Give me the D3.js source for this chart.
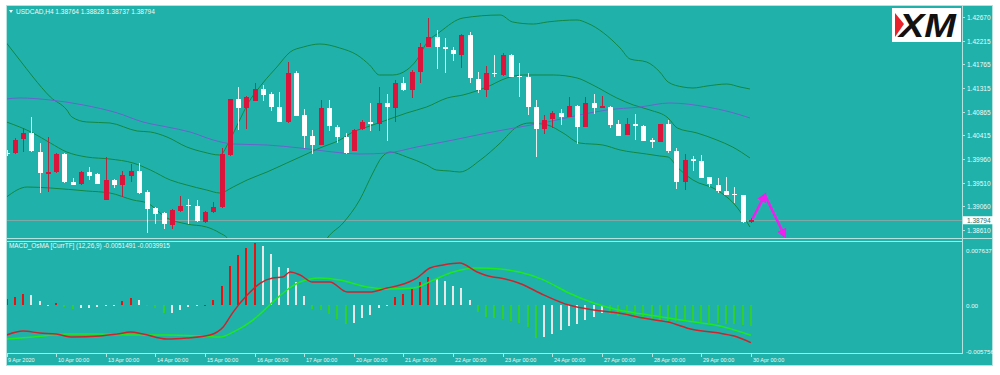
<!DOCTYPE html>
<html><head><meta charset="utf-8">
<script src="https://cdn.jsdelivr.net/npm/d3@7"></script>
<style>
html,body{margin:0;padding:0;background:#fff;}
svg{display:block;}
text{font-family:"Liberation Sans",Arial,sans-serif;}
</style></head><body>
<svg id="c" width="1000" height="375"></svg>
<script>
// ---------------- DATA ----------------
const symbolTitle = "USDCAD,H4  1.38764 1.38828 1.38737 1.38794";
const macdTitle = "MACD_OsMA [CurrTF] (12,26,9) -0.0051491 -0.0039915";
const lastPrice = 1.38794;

const openP  = [1.4008,1.4008,1.4034,1.4046,1.4010,1.3968,1.3971,1.4006,1.3952,1.3949,1.3971,1.3968,1.3918,1.3956,1.3947,1.3964,1.3973,1.3933,1.3903,1.3893,1.3870,1.3897,1.3908,1.3907,1.3876,1.3895,1.3905,1.4004,1.4111,1.4094,1.4107,1.4130,1.4120,1.4095,1.4067,1.4160,1.4080,1.4040,1.4023,1.4094,1.4057,1.4038,1.4012,1.4053,1.4067,1.4063,1.4103,1.4094,1.4141,1.4128,1.4162,1.4210,1.4229,1.4209,1.4204,1.4195,1.4233,1.4149,1.4128,1.4160,1.4156,1.4195,1.4154,1.4153,1.4095,1.4053,1.4073,1.4084,1.4076,1.4097,1.4057,1.4103,1.4094,1.4095,1.4063,1.4042,1.4063,1.4059,1.4032,1.4029,1.4063,1.4012,1.3952,1.3996,1.3992,1.3962,1.3947,1.3935,1.3930,1.3928,1.38764];
const highP  = [1.4013,1.4036,1.4055,1.4076,1.4027,1.4038,1.4008,1.4008,1.3960,1.3973,1.3981,1.3970,1.4000,1.3958,1.3973,1.3987,1.3989,1.3937,1.3905,1.3895,1.3901,1.3926,1.3920,1.3918,1.3897,1.3914,1.4017,1.4111,1.4134,1.4116,1.4141,1.4137,1.4124,1.4124,1.4181,1.4164,1.4092,1.4052,1.4109,1.4109,1.4061,1.4046,1.4053,1.4071,1.4103,1.4134,1.4120,1.4147,1.4153,1.4166,1.4217,1.4265,1.4242,1.4227,1.4210,1.4235,1.4238,1.4162,1.4174,1.4195,1.4198,1.4196,1.4179,1.4160,1.4109,1.4080,1.4088,1.4092,1.4114,1.4099,1.4114,1.4120,1.4116,1.4097,1.4071,1.4074,1.4082,1.4061,1.4036,1.4063,1.4071,1.4017,1.4006,1.4002,1.4004,1.3962,1.3960,1.3962,1.3943,1.3928,1.38828];
const lowP   = [1.4002,1.4006,1.4010,1.4010,1.3931,1.3933,1.3970,1.3950,1.3947,1.3947,1.3956,1.3949,1.3918,1.3941,1.3924,1.3952,1.3930,1.3855,1.3872,1.3863,1.3863,1.3895,1.3872,1.3876,1.3874,1.3893,1.3903,1.4002,1.4052,1.4053,1.4107,1.4107,1.4088,1.4067,1.4065,1.4078,1.4017,1.4006,1.4023,1.4050,1.4027,1.4006,1.4012,1.4052,1.4050,1.4050,1.4031,1.4067,1.4126,1.4113,1.4141,1.4210,1.4168,1.4160,1.4183,1.4170,1.4141,1.4122,1.4114,1.4153,1.4154,1.4153,1.4114,1.4080,1.4000,1.4044,1.4055,1.4061,1.4076,1.4025,1.4057,1.4082,1.4094,1.4055,1.4040,1.4042,1.4032,1.4031,1.4017,1.4029,1.4008,1.3939,1.3937,1.3973,1.3960,1.3943,1.3931,1.3928,1.3912,1.3875,1.38737];
const closeP = [1.4006,1.4032,1.4046,1.4012,1.3970,1.3971,1.4006,1.3952,1.3947,1.3971,1.3964,1.3949,1.3956,1.3947,1.3966,1.3973,1.3931,1.3901,1.3891,1.3872,1.3899,1.3907,1.3906,1.3878,1.3895,1.3905,1.4006,1.4111,1.4094,1.4115,1.4130,1.4118,1.4095,1.4067,1.4160,1.4078,1.4040,1.4023,1.4094,1.4059,1.4038,1.4008,1.4052,1.4067,1.4063,1.4103,1.4095,1.4141,1.4128,1.4162,1.4210,1.4229,1.4210,1.4207,1.4196,1.4233,1.4151,1.4128,1.4160,1.4158,1.4195,1.4153,1.4152,1.4095,1.4053,1.4071,1.4084,1.4076,1.4097,1.4057,1.4103,1.4094,1.4097,1.4061,1.4040,1.4063,1.4059,1.4031,1.4029,1.4063,1.4012,1.3952,1.3994,1.3992,1.3960,1.3949,1.3935,1.3928,1.3928,1.3876,1.38794];

// Bollinger bands & moving average: [barIndex, price]
const bbUpper = [[0,1.42174],[1.6,1.41850],[3.2,1.41526],[5.3,1.41145],[7.3,1.40896],[7.9,1.40764],[9.7,1.40668],[12.5,1.40649],[15.8,1.40496],[17.4,1.40477],[19.4,1.40382],[21.8,1.40191],[23.8,1.40095],[25.8,1.40038],[27,1.40324],[28.2,1.40706],[29.1,1.40992],[31,1.41411],[32.7,1.41717],[34.3,1.42002],[35.9,1.42098],[37.9,1.42155],[40.3,1.42079],[42.4,1.41945],[43.9,1.41755],[45.1,1.41564],[46.7,1.41564],[48.4,1.41659],[49.6,1.41850],[50.8,1.42174],[52.4,1.42384],[55.2,1.42651],[59.7,1.42708],[61.2,1.42575],[63.7,1.42536],[65.4,1.42575],[69,1.42613],[70.2,1.42555],[74.2,1.42079],[75.4,1.41869],[77.4,1.41812],[79,1.41621],[80,1.41430],[81.8,1.41335],[83,1.41316],[84.7,1.41354],[87.1,1.41392],[88.7,1.41335],[89.9,1.41297]];
const bbMiddle = [[0,1.40668],[3.2,1.40458],[5.3,1.40267],[7.3,1.40095],[9.7,1.40000],[12.5,1.39962],[15.3,1.39886],[17.4,1.39752],[19.8,1.39562],[21.8,1.39466],[24.2,1.39371],[25.8,1.39314],[27.4,1.39428],[29.1,1.39562],[31.5,1.39714],[33.9,1.39886],[35.5,1.40000],[37.9,1.40172],[40.3,1.40324],[41.9,1.40477],[43.6,1.40573],[46,1.40706],[48.4,1.40840],[50.8,1.40954],[53.3,1.41126],[55.2,1.41183],[58.1,1.41335],[60.5,1.41507],[62.5,1.41564],[66.1,1.41564],[69,1.41507],[70.9,1.41373],[73.8,1.41126],[75.8,1.40992],[77.8,1.40897],[80,1.40744],[81.1,1.40554],[83.5,1.40458],[85.9,1.40324],[87.8,1.40191],[89.9,1.39981]];
const bbLower = [[0,1.39237],[2.5,1.39428],[5.3,1.39409],[9.7,1.39352],[12.5,1.39314],[15.3,1.39180],[17,1.39123],[19.4,1.38837],[21.8,1.38722],[24.2,1.38665],[25.8,1.38551],[26.7,1.38455],[28,1.3805],[30,1.3770],[32,1.3755],[34,1.3760],[36,1.3790],[38,1.3825],[38.8,1.38455],[40.7,1.38741],[42.7,1.39180],[44.3,1.39695],[45.4,1.40000],[46.4,1.40095],[48.4,1.40000],[50.8,1.39848],[52,1.39752],[53.6,1.39733],[54.8,1.39714],[57.3,1.39943],[59.7,1.40267],[61.7,1.40573],[63.3,1.40649],[65.4,1.40611],[67.3,1.40458],[69.3,1.40267],[72.1,1.40229],[74.2,1.40134],[77.4,1.40057],[79,1.40019],[80,1.40000],[81.1,1.39809],[83,1.39562],[85.9,1.39371],[88.3,1.39047],[89.9,1.38665]];
const maLine = [[0,1.41107],[1.6,1.41126],[5.3,1.41087],[9.3,1.40992],[13.4,1.40840],[16.5,1.40668],[19.4,1.40573],[22.2,1.40477],[25,1.40324],[27.4,1.40248],[31.5,1.40229],[35.5,1.40172],[39.5,1.40095],[42.7,1.40057],[46,1.40076],[49.6,1.40191],[54,1.40324],[58.1,1.40458],[62.1,1.40573],[65.4,1.40668],[69.3,1.40802],[72.6,1.40897],[76.6,1.40954],[80.2,1.41030],[84.7,1.40954],[87.5,1.40859],[89.9,1.40744]];

// forecast arrow: [barIndex, price]
const arrowPath = [[90.2,1.38818],[91.7,1.39276],[94.1,1.38494]];

// MACD / OsMA
const osma = [0.00070,0.00102,0.00132,0.00119,0.00049,0.00003,0.00028,-0.00025,-0.00053,-0.00041,-0.00033,-0.00025,-0.00009,-0.00004,0.00049,0.00090,0.00061,-0.00002,-0.00041,-0.00095,-0.00094,-0.00065,-0.00025,-0.00009,0.00004,0.00058,0.00234,0.00479,0.00611,0.00697,0.00764,0.00721,0.00623,0.00471,0.00451,0.00283,0.00111,-0.00053,-0.00055,-0.00114,-0.00176,-0.00230,-0.00218,-0.00156,-0.00123,-0.00041,-0.00009,0.00098,0.00139,0.00200,0.00283,0.00344,0.00336,0.00295,0.00234,0.00213,0.00061,-0.00082,-0.00147,-0.00156,-0.00175,-0.00200,-0.00225,-0.00270,-0.00400,-0.00390,-0.00350,-0.00310,-0.00260,-0.00230,-0.00180,-0.00140,-0.00100,-0.00110,-0.00130,-0.00135,-0.00150,-0.00170,-0.00180,-0.00182,-0.00190,-0.00195,-0.00200,-0.00208,-0.00212,-0.00218,-0.00225,-0.00230,-0.00235,-0.00245,-0.00250];
const macdMain = [[0,-0.00367],[2,-0.00318],[4,-0.00343],[6,-0.00355],[8,-0.00392],[11.3,-0.00380],[13.4,-0.00355],[15,-0.00331],[16.5,-0.00355],[19.4,-0.00417],[21.8,-0.00404],[24.6,-0.00367],[26.2,-0.00269],[27.4,-0.00085],[29.1,0.00124],[30.7,0.00272],[32.2,0.00333],[33.4,0.00345],[34.3,0.00407],[35.5,0.00370],[37,0.00284],[39.1,0.00284],[41.2,0.00161],[43.9,0.00161],[46,0.00210],[47.6,0.00247],[49.6,0.00333],[51.2,0.00456],[52.8,0.00493],[54.8,0.00517],[56.9,0.00407],[58.8,0.00345],[59.7,0.00333],[62,0.00270],[65,0.00124],[68,0.00001],[71,-0.00060],[74,-0.00097],[77,-0.00159],[80,-0.00208],[83,-0.00300],[86,-0.00340],[88,-0.00380],[90,-0.00460]];
const macdSignal = [[0,-0.00417],[3.2,-0.00392],[7.3,-0.00355],[11.3,-0.00355],[15.3,-0.00367],[19.4,-0.00367],[23.4,-0.00380],[25.8,-0.00392],[27.4,-0.00331],[29.8,-0.00183],[32.2,0.00038],[33.9,0.00186],[35.5,0.00284],[37.9,0.00333],[40.3,0.00308],[43.6,0.00222],[46,0.00198],[49.2,0.00210],[51.6,0.00308],[54,0.00407],[56.9,0.00456],[59.7,0.00444],[62,0.00407],[65,0.00308],[68,0.00149],[71,0.00026],[74,-0.00060],[77,-0.00110],[80,-0.00159],[83,-0.00205],[86,-0.00250],[90,-0.00370]];

const priceTicks = [1.42670,1.42215,1.41765,1.41315,1.40865,1.40415,1.39960,1.39510,1.39060,1.38610];
const macdTicks = [0.007637,0.00,-0.005756];
const macdTickLabels = ["0.007637","0.00","-0.005756"];
const dateBars = [0,6,12,18,24,30,36,42,48,54,60,66,72,78,84,90];
const dateLabels = ["9 Apr 2020","10 Apr 00:00","13 Apr 00:00","14 Apr 00:00","15 Apr 00:00","16 Apr 00:00","17 Apr 00:00","20 Apr 00:00","21 Apr 00:00","22 Apr 00:00","23 Apr 00:00","24 Apr 00:00","27 Apr 00:00","28 Apr 00:00","29 Apr 00:00","30 Apr 00:00"];

// ---------------- DRAW ----------------
const svg = d3.select("#c");
const C = {bg:"#20b2aa", frame:"#b4e3df", text:"#eef8f7", up:"#dc143c", upWick:"#b02a40", down:"#ffffff", downWick:"#e6eeee",
           bb:"#138740", ma:"#6a62cc", macd:"#d0222c", sig:"#1ee81e", hUp:"#e81010", hDown:"#2fcf2f", hWhite:"#e8e8e8", arrow:"#f01ff0"};

svg.append("rect").attr("width",1000).attr("height",375).attr("fill","#fff");
svg.append("rect").attr("x",6).attr("y",5).attr("width",987).attr("height",361).attr("fill",C.bg);

const defs = svg.append("defs");
defs.append("clipPath").attr("id","clipMain").append("rect").attr("x",7).attr("y",6).attr("width",955).attr("height",232);
defs.append("clipPath").attr("id","clipMacd").append("rect").attr("x",7).attr("y",242).attr("width",955).attr("height",111);
defs.append("clipPath").attr("id","clipAll").append("rect").attr("x",6).attr("y",5).attr("width",987).attr("height",361);
defs.append("marker").attr("id","ah").attr("viewBox","0 0 10 10").attr("refX",7).attr("refY",5)
  .attr("markerWidth",3.8).attr("markerHeight",3.8).attr("orient","auto").attr("markerUnits","strokeWidth")
  .append("path").attr("d","M0,0 L10,5 L0,10 z").attr("fill",C.arrow);

const x = d3.scaleLinear().domain([0,90]).range([6.5,750.8]);
const y = d3.scaleLinear().domain([1.42670,1.38610]).range([17,229.9]);
const ym = d3.scaleLinear().domain([0.007637,-0.005756]).range([243,352]);

// frame lines
const fr = svg.append("g").attr("stroke",C.frame).attr("stroke-width",1).attr("shape-rendering","crispEdges");
[[6,5.5,993,5.5],[6,238.5,993,238.5],[6,241.5,962,241.5],[6,353.5,962,353.5],[6,365.5,993,365.5],[962.5,5,962.5,354],[6.5,5,6.5,366],[992.5,5,992.5,366]]
  .forEach(l=>fr.append("line").attr("x1",l[0]).attr("y1",l[1]).attr("x2",l[2]).attr("y2",l[3]));

// ---- main panel ----
const main = svg.append("g").attr("clip-path","url(#clipMain)");
main.append("line").attr("x1",7).attr("x2",962).attr("y1",Math.round(y(lastPrice))+0.5).attr("y2",Math.round(y(lastPrice))+0.5)
  .attr("stroke","#7fa9a6").attr("stroke-width",1).attr("shape-rendering","crispEdges");

const lineGen = d3.line().x(d=>x(d[0])).y(d=>y(d[1])).curve(d3.curveMonotoneX);
[bbUpper,bbMiddle,bbLower].forEach(s=>main.append("path").attr("d",lineGen(s)).attr("fill","none").attr("stroke",C.bb).attr("stroke-width",1));
main.append("path").attr("d",lineGen(maLine)).attr("fill","none").attr("stroke",C.ma).attr("stroke-width",1);

const candles = d3.range(openP.length).map(i=>({i,o:openP[i],h:highP[i],l:lowP[i],c:closeP[i]}));
const cg = main.append("g").attr("shape-rendering","crispEdges");
cg.selectAll("line.w").data(candles).join("line")
  .attr("x1",d=>Math.round(x(d.i))+0.5).attr("x2",d=>Math.round(x(d.i))+0.5)
  .attr("y1",d=>y(d.h)).attr("y2",d=>y(d.l))
  .attr("stroke",d=>d.c>d.o?C.upWick:C.downWick).attr("stroke-width",1);
cg.selectAll("rect.b").data(candles).join("rect")
  .attr("x",d=>Math.round(x(d.i))-2).attr("width",5)
  .attr("y",d=>y(Math.max(d.o,d.c)))
  .attr("height",d=>Math.max(1.2,Math.abs(y(d.o)-y(d.c))))
  .attr("fill",d=>d.c>d.o?C.up:C.down);

// forecast arrow (two segments)
for(let k=0;k<arrowPath.length-1;k++){
  main.append("line").attr("x1",x(arrowPath[k][0])).attr("y1",y(arrowPath[k][1]))
    .attr("x2",x(arrowPath[k+1][0])).attr("y2",y(arrowPath[k+1][1]))
    .attr("stroke",C.arrow).attr("stroke-width",2.6).attr("marker-end","url(#ah)");
}

// ---- MACD panel ----
const mp = svg.append("g").attr("clip-path","url(#clipMacd)");
const hb = mp.append("g").attr("shape-rendering","crispEdges");
hb.selectAll("rect").data(osma.map((v,i)=>({i,v,prev:i>0?osma[i-1]:v-1e-9}))).join("rect")
  .attr("x",d=>Math.round(x(d.i))-1).attr("width",2)
  .attr("y",d=>Math.min(ym(0),ym(d.v))).attr("height",d=>Math.max(0.8,Math.abs(ym(d.v)-ym(0))))
  .attr("fill",d=> d.v>=0 ? (d.v>d.prev?C.hUp:C.hWhite) : (d.v<d.prev?C.hDown:C.hWhite));
const mline = d3.line().x(d=>x(d[0])).y(d=>ym(d[1])).curve(d3.curveMonotoneX);
mp.append("path").attr("d",mline(macdSignal)).attr("fill","none").attr("stroke",C.sig).attr("stroke-width",1.5);
mp.append("path").attr("d",mline(macdMain)).attr("fill","none").attr("stroke",C.macd).attr("stroke-width",1.5);

// ---- axes / labels ----
const ax = svg.append("g").attr("clip-path","url(#clipAll)").attr("fill",C.text);
priceTicks.forEach(p=>{
  const yy = Math.round(y(p))+0.5;
  ax.append("line").attr("x1",962).attr("x2",965).attr("y1",yy).attr("y2",yy).attr("stroke",C.frame).attr("shape-rendering","crispEdges");
  ax.append("text").attr("x",967).attr("y",yy).attr("dy","0.35em").attr("font-size",6.5).text(p.toFixed(5));
});
// current price label
const ly = y(lastPrice);
ax.append("rect").attr("x",963).attr("y",ly-4).attr("width",30).attr("height",8).attr("fill","#ffffff");
ax.append("text").attr("x",967).attr("y",ly).attr("dy","0.35em").attr("font-size",6.5).attr("fill","#2a6e6a").text(lastPrice.toFixed(5));

macdTicks.forEach((v,k)=>{
  const yy = ym(v) + (k===0?8:(k===2?0:1));
  ax.append("text").attr("x",966).attr("y",yy).attr("dy","0.35em").attr("font-size",6.2).text(macdTickLabels[k]);
});

dateBars.forEach((b,k)=>{
  const xx = Math.round(x(b))+0.5;
  ax.append("line").attr("x1",xx).attr("x2",xx).attr("y1",353).attr("y2",357).attr("stroke",C.frame).attr("shape-rendering","crispEdges");
  ax.append("text").attr("x",xx+(k===0?0.5:1.5)).attr("y",360.5).attr("dy","0.35em").attr("font-size",5.5).text(dateLabels[k]);
});

// titles
svg.append("path").attr("d","M9,10 L13,10 L11,13 Z").attr("fill",C.text);
svg.append("text").attr("x",16).attr("y",11.5).attr("dy","0.35em").attr("font-size",6.5).attr("fill",C.text).text(symbolTitle);
svg.append("text").attr("x",9).attr("y",245.5).attr("dy","0.35em").attr("font-size",6.4).attr("fill",C.text).text(macdTitle);

// XM logo
const logo = svg.append("g");
logo.append("rect").attr("x",892).attr("y",8).attr("width",69).attr("height",34).attr("fill","#ffffff");
logo.append("path").attr("d","M895,13 L904,24 L895,37 Z").attr("fill","#e8202a");
logo.append("text").attr("x",899).attr("y",37).attr("font-size",33).attr("font-weight","bold").attr("font-style","italic")
  .attr("fill","#111").attr("textLength",57).attr("lengthAdjust","spacingAndGlyphs").text("XM");
</script>
</body></html>
